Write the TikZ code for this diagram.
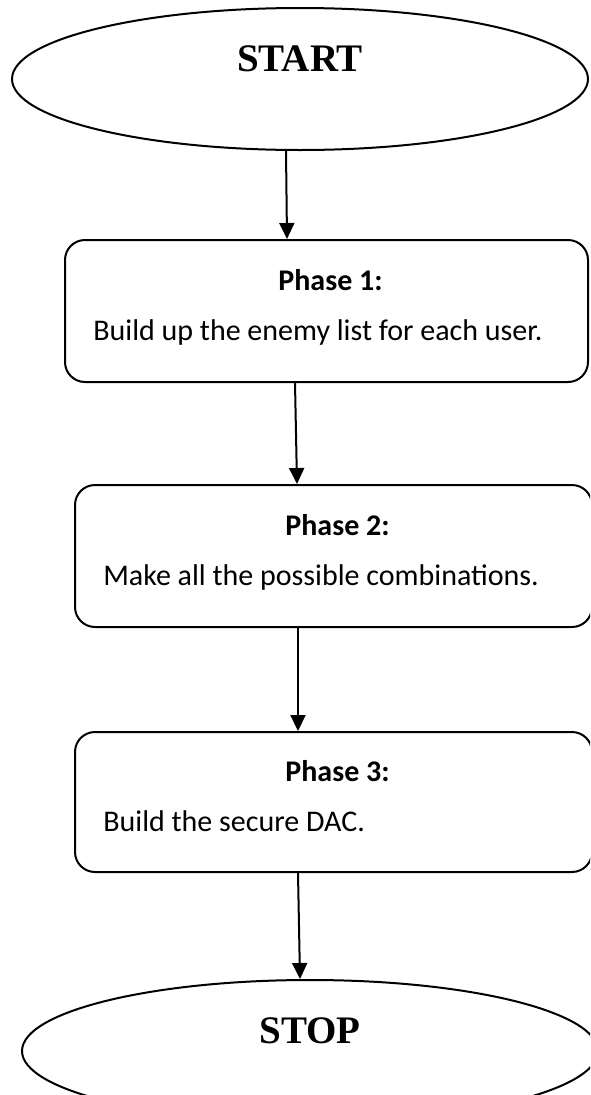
\documentclass[tikz,border=0pt]{standalone}
\usepackage{fontspec}
\setmainfont{Carlito}
\newfontfamily\timesfont{Liberation Serif}
\usetikzlibrary{shapes.geometric,arrows.meta}
\begin{document}
\begin{tikzpicture}[x=1pt,y=-1pt,
  line width=2pt,
  term/.style={draw, ellipse, inner sep=0pt, minimum width=576pt, minimum height=142pt},
  phasebox/.style={draw, rounded corners=20pt, inner sep=0pt, minimum height=142pt},
  arr/.style={-{Triangle[length=16pt,width=15pt]}},
  termtext/.style={font=\timesfont\bfseries\fontsize{39}{43}\selectfont, anchor=base},
  titletext/.style={font=\bfseries\fontsize{30}{34}\selectfont, anchor=base},
  bodytext/.style={font=\fontsize{30}{34}\selectfont, anchor=base west}]
\clip (0,0) rectangle (590,1095);
\useasboundingbox (0,0) rectangle (590,1095);
\fill[white] (0,0) rectangle (590,1095);

\node[term] (start) at (300,79) {};
\node[termtext] (starttext) at ([yshift=8pt]start.center) {START};

\node[phasebox, minimum width=523pt] (p1) at (326.5,311) {};
\node[titletext] (t1) at ([xshift=4pt,yshift=21pt]p1.center) {Phase 1:};
\node[bodytext] (b1) at ([xshift=25pt,yshift=-29pt]p1.west) {Build up the enemy list for each user.};

\node[phasebox, minimum width=517pt] (p2) at (333.5,556) {};
\node[titletext] (t2) at ([xshift=4pt,yshift=21pt]p2.center) {Phase 2:};
\node[bodytext] (b2) at ([xshift=25pt,yshift=-29pt]p2.west) {Make all the possible combinations.};

\node[phasebox, minimum width=517pt, minimum height=140pt] (p3) at (333.5,802) {};
\node[titletext] (t3) at ([xshift=4pt,yshift=21pt]p3.center) {Phase 3:};
\node[bodytext] (b3) at ([xshift=25pt,yshift=-29pt]p3.west) {Build the secure DAC.};

\node[term, minimum height=142pt] (stop) at (310,1051) {};
\node[termtext] (stoptext) at ([yshift=8pt]stop.center) {STOP};

\draw[arr] ([xshift=-14pt]start.south) -- ([xshift=-39.5pt]p1.north);
\draw[arr] ([xshift=-31.5pt]p1.south) -- ([xshift=-36.5pt]p2.north);
\draw[arr] ([xshift=-35.5pt]p2.south) -- ([xshift=-35.5pt]p3.north);
\draw[arr] ([xshift=-35.5pt]p3.south) -- ([xshift=-10pt]stop.north);
\end{tikzpicture}
\end{document}
